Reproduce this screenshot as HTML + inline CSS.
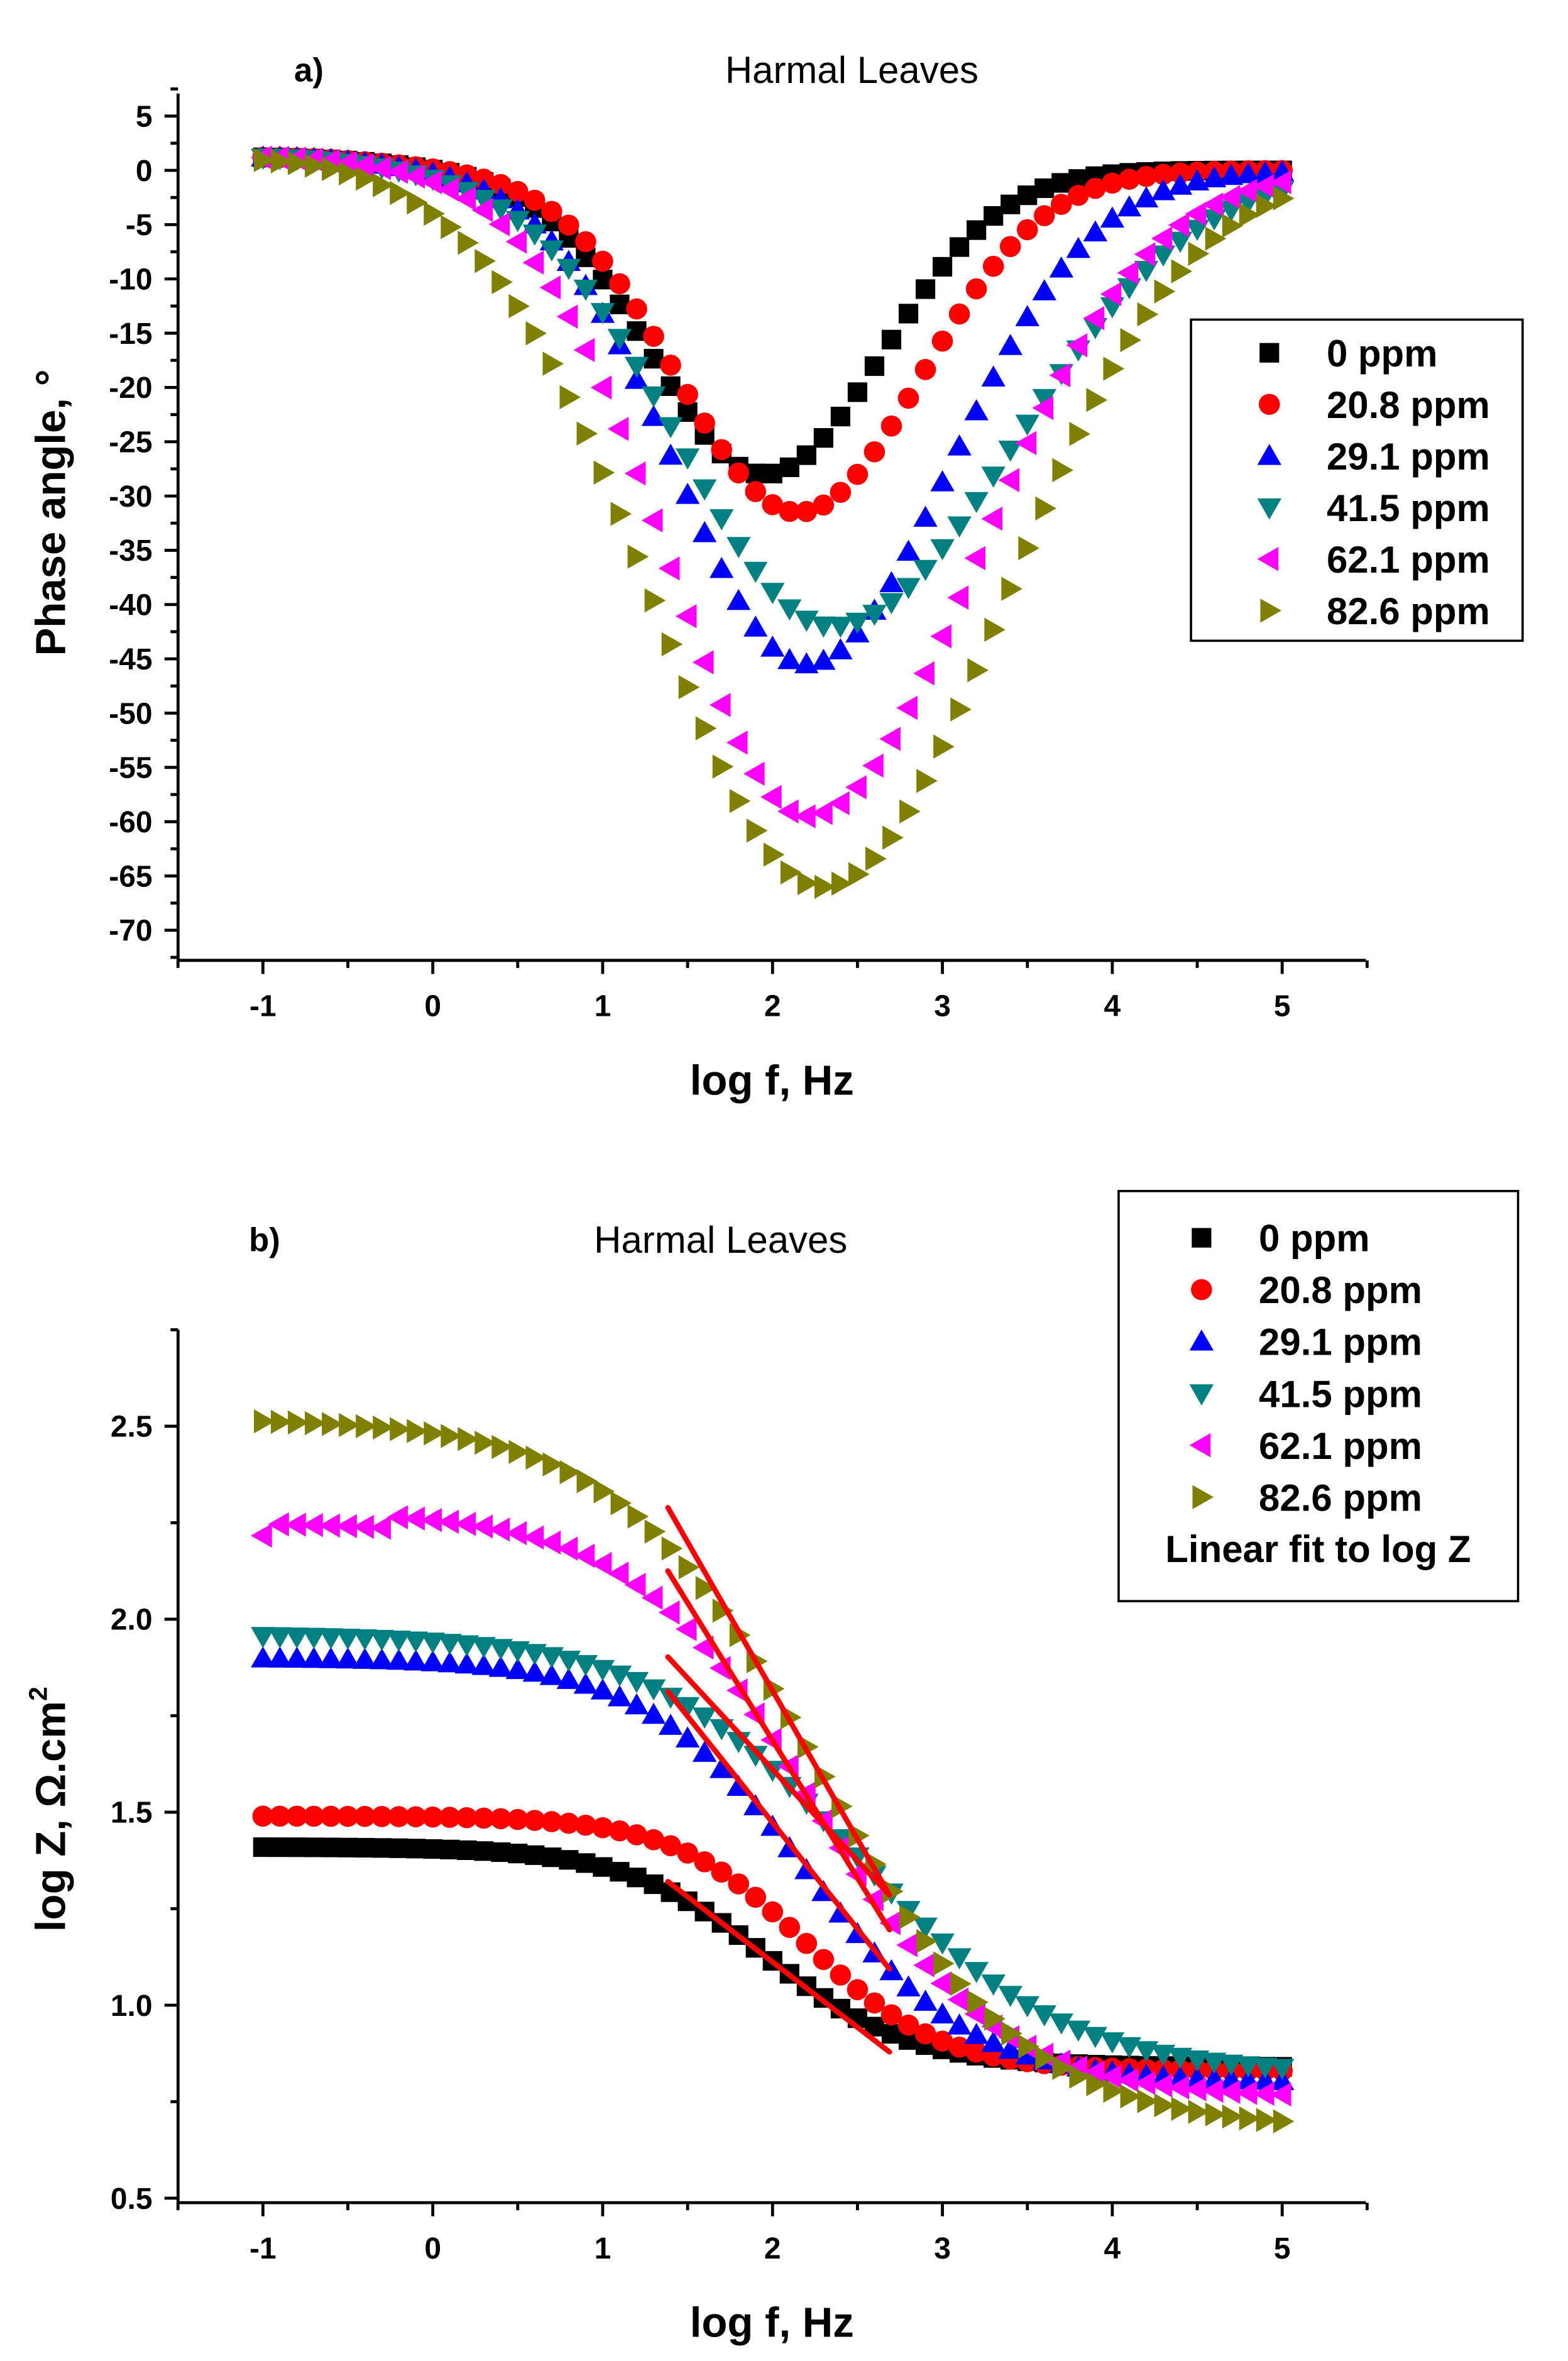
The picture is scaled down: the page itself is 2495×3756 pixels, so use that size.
<!DOCTYPE html>
<html><head><meta charset="utf-8"><style>
html,body{margin:0;padding:0;background:#fff}
svg{display:block}
text{font-family:"Liberation Sans",Arial,sans-serif}
</style></head><body>
<svg id="s" width="2495" height="3756" viewBox="0 0 1040 1566" xmlns="http://www.w3.org/2000/svg">
<rect width="1040" height="1566" fill="#fff"/>
<g id="g"></g>
<text x="195" y="54" font-size="22" font-weight="bold">a)</text>
<text x="565" y="55" font-size="25" text-anchor="middle">Harmal Leaves</text>
<text x="165" y="830" font-size="22" font-weight="bold">b)</text>
<text x="478" y="831" font-size="25" text-anchor="middle">Harmal Leaves</text>
<text x="512" y="726" font-size="28" font-weight="bold" text-anchor="middle">log f, Hz</text>
<text x="512" y="1550" font-size="28" font-weight="bold" text-anchor="middle">log f, Hz</text>
<text transform="translate(43,340) rotate(-90)" font-size="28" font-weight="bold" text-anchor="middle">Phase angle, °</text>
<text transform="translate(43,1200) rotate(-90)" font-size="28" font-weight="bold" text-anchor="middle">log Z, Ω.cm<tspan font-size="17" dy="-12">2</tspan></text>
<rect x="790" y="212" width="220" height="213" fill="#fff" stroke="#000" stroke-width="1.5"/>
<rect x="742" y="790" width="265" height="272" fill="#fff" stroke="#000" stroke-width="1.5"/>
<g id="leg" font-size="25" font-weight="bold"></g>
</svg>
<script>
var NS="http://www.w3.org/2000/svg",g=document.getElementById('g'),leg=document.getElementById('leg');
function el(t,a,p){var e=document.createElementNS(NS,t);for(var k in a)e.setAttribute(k,a[k]);(p||g).appendChild(e);return e;}
var cols=['#000','#ff0000','#0000ff','#008080','#ff00ff','#808000'];
function mk(i,x,y,p){var c=cols[i];p=p||g;
 if(i==0)el('rect',{x:x-6.5,y:y-6.5,width:13,height:13,fill:c},p);
 else if(i==1)el('circle',{cx:x,cy:y,r:7,fill:c},p);
 else if(i==2)el('polygon',{points:(x)+','+(y-8)+' '+(x-8)+','+(y+6)+' '+(x+8)+','+(y+6),fill:c},p);
 else if(i==3)el('polygon',{points:(x)+','+(y+8)+' '+(x-8)+','+(y-6)+' '+(x+8)+','+(y-6),fill:c},p);
 else if(i==4)el('polygon',{points:(x-8)+','+y+' '+(x+6)+','+(y-8)+' '+(x+6)+','+(y+8),fill:c},p);
 else el('polygon',{points:(x+8)+','+y+' '+(x-6)+','+(y-8)+' '+(x-6)+','+(y+8),fill:c},p);}
function X(v){return 287+v*112.7;}
function YA(v){return 113-v*7.2;}
function YB(v){return 1074-(v-2)*256;}
function axes(yb,yt,ticks,minor){
 el('line',{x1:118,y1:yb,x2:906,y2:yb,stroke:'#000','stroke-width':2});
 el('line',{x1:118,y1:yb,x2:118,y2:yt,stroke:'#000','stroke-width':2});
 for(var v=-1.5;v<=5.51;v+=0.5){var x=X(v),maj=Math.abs(v-Math.round(v))<0.01;
  el('line',{x1:x,y1:yb,x2:x,y2:yb+(maj?9:5),stroke:'#000','stroke-width':2});
  if(maj){var t=el('text',{x:x,y:yb+37,'font-size':20,'font-weight':'bold','text-anchor':'middle'});t.textContent=Math.round(v);}}
 ticks.forEach(function(a){el('line',{x1:118,y1:a[0],x2:109,y2:a[0],stroke:'#000','stroke-width':2});
  var t=el('text',{x:101,y:a[0]+7,'font-size':20,'font-weight':'bold','text-anchor':'end'});t.textContent=a[1];});
 minor.forEach(function(y){el('line',{x1:118,y1:y,x2:113,y2:y,stroke:'#000','stroke-width':2});});
}
var ta=[],ma=[];for(var v=5;v>=-70;v-=5){ta.push([YA(v),String(v)]);ma.push(YA(v-2.5));}
ma.push(YA(7.5));
axes(637,62,ta,ma);
var tb=[],mb=[];[0.5,1.0,1.5,2.0,2.5].forEach(function(v){tb.push([YB(v),v.toFixed(1)]);mb.push(YB(v+0.25));});
axes(1461,882,tb,mb);
var P=[[28,1.95,0.94,0.98],[31.5,2.15,1.0,1.02],[45.5,2.2,1.08,1.18],[42,2.35,1.25,1.5],[59.5,2.2,1.15,1.4],[66,2.3,1.4,1.5]];
P.forEach(function(p,i){for(var k=0;k<=60;k++){var x=-1+k*0.1,d=x-p[1],w=d<0?p[2]:p[3];
 var y=-p[0]*Math.exp(-(d/w)*(d/w))+1.2*Math.exp(-(x+1)*(x+1));mk(i,X(x),YA(y));}});
var Z=[[1.41,0.84,1.97,1.03],[1.49,0.83,2.2,1.1],[1.90,0.80,2.2,0.9],[1.96,0.82,2.49,0.72],[2.28,0.76,2.24,0.81],[2.52,0.68,2.29,0.73]];
Z.forEach(function(p,i){for(var k=0;k<=60;k++){var x=-1+k*0.1;
 var hi=p[0];if(i==4&&x<-0.25)hi=2.25;if(i==4&&k==0)hi=2.22;
 var y=p[1]+(hi-p[1])/(1+Math.pow(10,p[3]*(x-p[2])));mk(i,X(x),YB(y));}});
[[443,1248,590,1361],[443,1122,590,1306],[443,1099,590,1257],[443,1042,590,1280],[443,1000,590,1257]].forEach(function(l){
 el('line',{x1:l[0],y1:l[1],x2:l[2],y2:l[3],stroke:'#ff0000','stroke-width':3.5,'stroke-linecap':'round'});});
var labs=['0 ppm','20.8 ppm','29.1 ppm','41.5 ppm','62.1 ppm','82.6 ppm'];
labs.forEach(function(s,i){var y=234+i*34.2;mk(i,842,y,leg);var t=el('text',{x:880,y:y+9},leg);t.textContent=s;
 y=821+i*34.4;mk(i,797,y,leg);t=el('text',{x:835,y:y+9},leg);t.textContent=s;});
var t=el('text',{x:773,y:1036},leg);t.textContent='Linear fit to log Z';
</script>
</body></html>
